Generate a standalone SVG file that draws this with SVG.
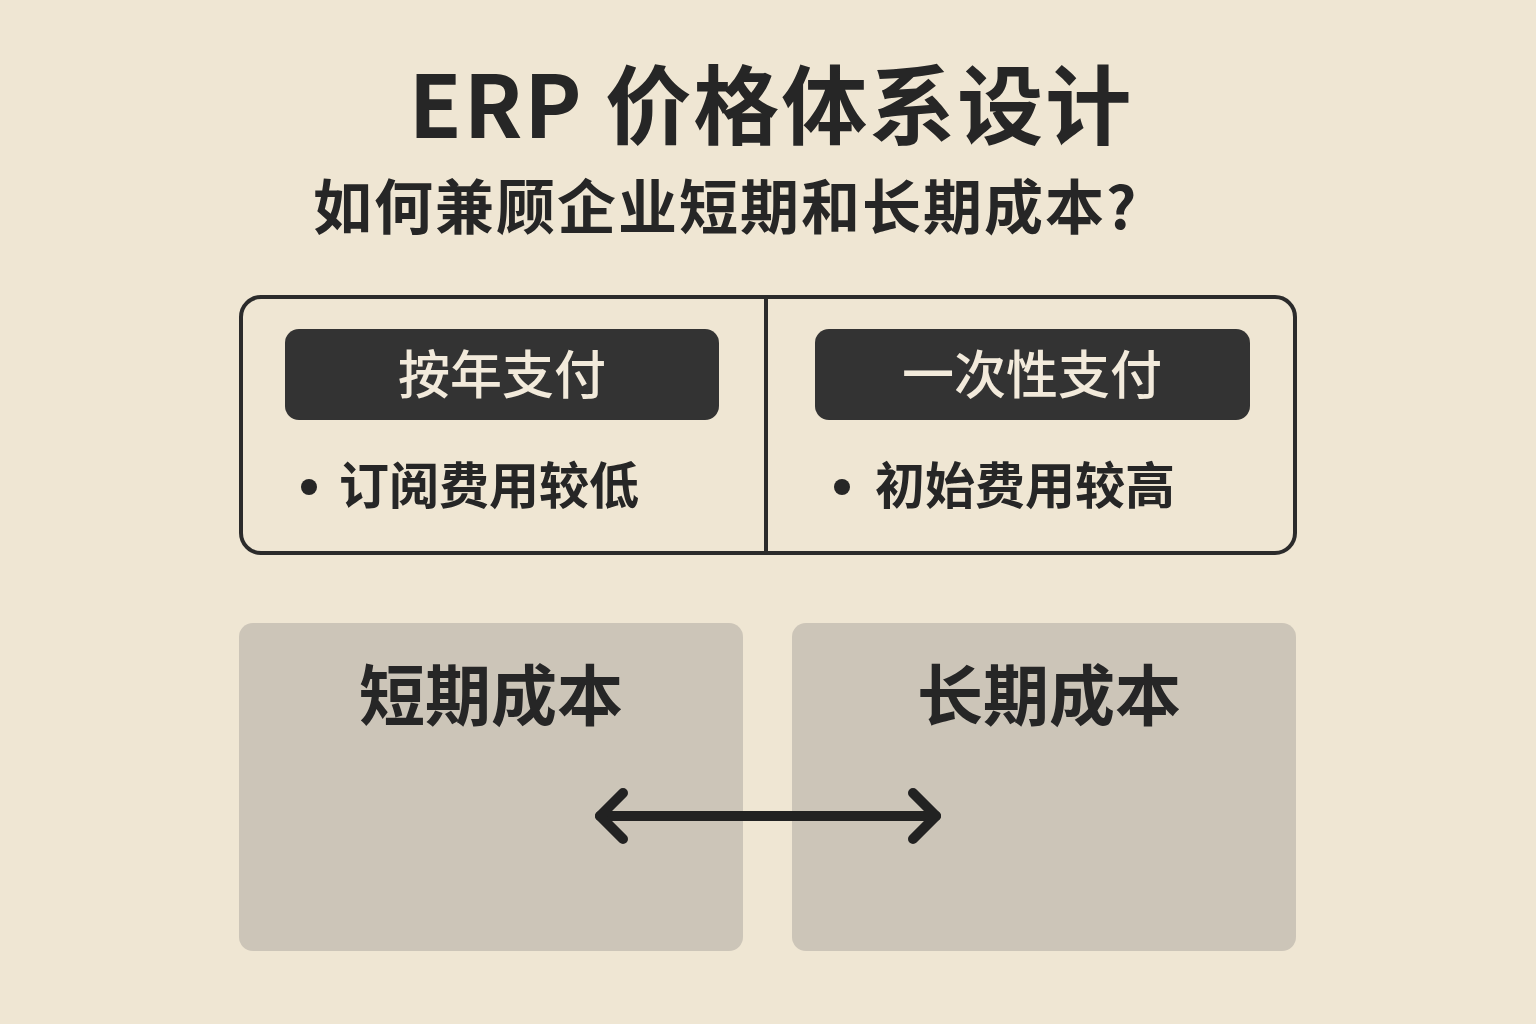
<svg xmlns="http://www.w3.org/2000/svg" width="1536" height="1024" viewBox="0 0 1536 1024">
<style>
.t{font-family:"Noto Sans CJK SC","Noto Sans",sans-serif;font-weight:700;fill:#262626}
.pill{fill:#333333}
.pt{font-family:"Noto Sans CJK SC","Noto Sans",sans-serif;font-weight:500;fill:#F2EADB;font-size:52px;text-anchor:middle}
.bt{font-family:"Noto Sans CJK SC","Noto Sans",sans-serif;font-weight:700;fill:#262626;font-size:50px}
.cost{fill:#CCC5B8}
.ct{font-family:"Noto Sans CJK SC","Noto Sans",sans-serif;font-weight:700;fill:#262626;font-size:66px;text-anchor:middle}
</style>
<rect width="1536" height="1024" fill="#EFE6D3"/>
<g id="title">
<text class="t" x="771" y="138" font-size="86" letter-spacing="2" text-anchor="middle">ERP 价格体系设计</text>
<text class="t" x="313" y="229" font-size="59" letter-spacing="2">如何兼顾企业短期和长期成本?</text>
</g>
<g id="payment-panel">
<rect x="241" y="297" width="1054" height="256" rx="20" fill="none" stroke="#2b2b2b" stroke-width="4"/>
<line x1="766" y1="297" x2="766" y2="553" stroke="#2b2b2b" stroke-width="4"/>
</g>
<g id="annual">
<rect class="pill" x="285" y="329" width="434" height="91" rx="14"/>
<text class="pt" x="502" y="394">按年支付</text>
<circle cx="309" cy="487" r="8" fill="#262626"/>
<text class="bt" x="339" y="504">订阅费用较低</text>
</g>
<g id="onetime">
<rect class="pill" x="815" y="329" width="435" height="91" rx="14"/>
<text class="pt" x="1032" y="394">一次性支付</text>
<circle cx="842" cy="487" r="8" fill="#262626"/>
<text class="bt" x="875" y="504">初始费用较高</text>
</g>
<g id="short-term">
<rect class="cost" x="239" y="623" width="504" height="328" rx="14"/>
<text class="ct" x="491" y="720">短期成本</text>
</g>
<g id="long-term">
<rect class="cost" x="792" y="623" width="504" height="328" rx="14"/>
<text class="ct" x="1049" y="720">长期成本</text>
</g>
<g id="connectors" fill="none" stroke="#222222" stroke-width="10" stroke-linecap="round" stroke-linejoin="round">
<line x1="600" y1="816" x2="936" y2="816"/>
<polyline points="623,793 600,816 623,839"/>
<polyline points="913,793 936,816 913,839"/>
</g>
</svg>
